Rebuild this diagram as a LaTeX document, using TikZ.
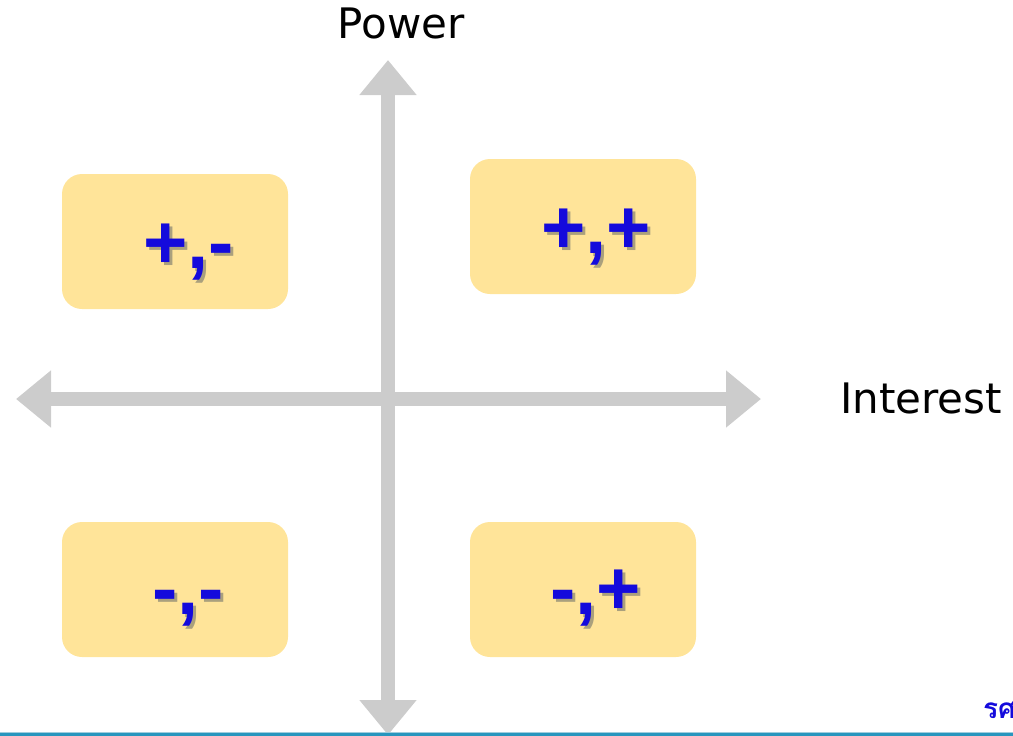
\documentclass[tikz,border=0pt]{standalone}
\usepackage{fontspec}
\setmainfont{DejaVu Sans}
\newfontfamily\signfont{Liberation Sans}
\newfontfamily\thaifont[Script=Thai]{Loma}
\usetikzlibrary{arrows.meta}
\definecolor{axisgray}{RGB}{204,204,204}
\definecolor{boxyellow}{RGB}{255,228,153}
\definecolor{signblue}{RGB}{20,10,220}
\definecolor{shadowgray}{RGB}{170,160,125}
\definecolor{ruleteal}{RGB}{40,150,190}
\definecolor{rulelight}{RGB}{160,205,222}
\newcommand{\shadowed}[1]{\rlap{\kern3pt\raisebox{-3pt}{\color{shadowgray}#1}}#1}

\begin{document}
\begin{tikzpicture}[
        x=1pt, y=-1pt,
        axis/.style={
            draw=axisgray,
            line width=14pt,
            arrows={Triangle[length=35pt,width=55pt]-Triangle[length=35pt,width=55pt]}
        },
        quadrant/.style={
            fill=boxyellow,
            rounded corners=20pt,
            minimum width=226pt,
            minimum height=135pt,
            inner sep=0pt
        },
        sign/.style={
            text=signblue,
            font=\signfont\fontsize{76}{80}\selectfont\bfseries,
            anchor=base west,
            inner sep=0pt
        },
        axislabel/.style={
            font=\fontsize{42}{46}\selectfont,
            inner sep=0pt
        }
    ]

    \useasboundingbox (0,0) rectangle (1013,736);

    \coordinate (west) at (16,399);
    \coordinate (east) at (761,399);
    \coordinate (north) at (388,60);
    \coordinate (south) at (388,735);

    \draw[axis] (west) -- (east);
    \draw[axis] (south) -- (north);

    \node[quadrant] (highlow) at (175,241.5) {};
    \node[quadrant] (highhigh) at (583,226.5) {};
    \node[quadrant] (lowlow) at (175,589.5) {};
    \node[quadrant] (lowhigh) at (583,589.5) {};

    \node[sign] (highlowtxt) at (143,268) {\shadowed{+,-}};
    \node[sign] (highhightxt) at (541,253) {\shadowed{+,+}};
    \node[sign] (lowlowtxt) at (152,614) {\shadowed{-,-}};
    \node[sign] (lowhightxt) at (550,614) {\shadowed{-,+}};

    \node[axislabel, anchor=base] (power) at (401,38) {Power};
    \node[axislabel, anchor=base west] (interest) at (840,413) {Interest};

    \node[anchor=base west, inner sep=0pt, text=signblue,
        font=\thaifont\fontsize{28}{30}\selectfont\bfseries] (author) at (983,718) {รศ};

    \fill[rulelight] (0,731.5) rectangle (1013,733.5);
    \fill[ruleteal] (0,733) rectangle (1013,736);
\end{tikzpicture}
\end{document}
